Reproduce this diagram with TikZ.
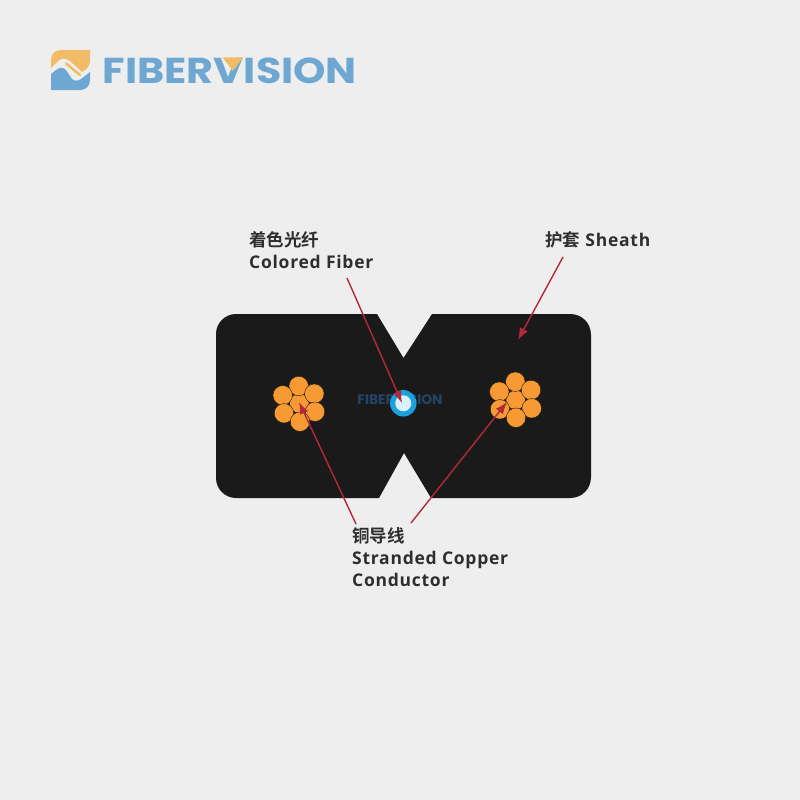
\documentclass[tikz,border=0pt]{standalone}
\usepackage{fontspec}
\setmainfont{Open Sans}[LetterSpace=4.2]
\newfontfamily\cjk{Noto Sans CJK SC}[BoldFont=* Bold]
\newfontfamily\logofont{Poppins}
\usetikzlibrary{arrows.meta}
\definecolor{bgc}{HTML}{EEEEEE}
\definecolor{cablec}{HTML}{1A1A1A}
\definecolor{copperc}{HTML}{F79A33}
\definecolor{redc}{HTML}{B5283C}
\definecolor{txtc}{HTML}{2E2E2E}
\definecolor{logob}{HTML}{6EA8D2}
\definecolor{logoo}{HTML}{F2BC67}
\definecolor{ringc}{HTML}{1BA0E0}
\definecolor{wmc}{HTML}{234468}
\tikzset{
  x=1pt,y=-1pt,
  lbl/.style={font=\fontsize{17.5}{22}\selectfont\bfseries,text=txtc,anchor=north west,inner sep=0pt,align=left},
  wire/.style={circle,fill=copperc,draw=cablec,line width=0.4pt,minimum size=19.5pt,inner sep=0pt},
  pointer/.style={redc,line width=1.4pt,-{Latex[length=12pt,width=9pt]}}
}
\begin{document}
\begin{tikzpicture}
\useasboundingbox (0,0) rectangle (800,800);
\fill[bgc] (0,0) rectangle (800,800);
% cable
\fill[cablec] (236,314) -- (377,314) -- (403.5,358) -- (432,314) -- (570,314)
  .. controls (582,314) and (591,323) .. (591,335) -- (591,477)
  .. controls (591,489) and (582,498) .. (570,498) -- (431,498) -- (404,453) -- (379,498) -- (236,498)
  .. controls (225,498) and (216,489) .. (216,478) -- (216,334)
  .. controls (216,323) and (225,314) .. (236,314) -- cycle;
% copper left
\node[wire] (lc) at (299.3,403.3) {};
\node[wire] (l1) at (298.7,386) {};
\node[wire] (l2) at (282.7,395.3) {};
\node[wire] (l3) at (314.3,393.7) {};
\node[wire] (l4) at (284,413.3) {};
\node[wire] (l5) at (315,411.7) {};
\node[wire] (l6) at (300,421.7) {};
% copper right
\node[wire] (rc) at (515.7,400) {};
\node[wire] (r1) at (515.3,381.7) {};
\node[wire] (r2) at (499.3,391.7) {};
\node[wire] (r3) at (531,390) {};
\node[wire] (r4) at (500,409.3) {};
\node[wire] (r5) at (531.7,408.3) {};
\node[wire] (r6) at (516,417.7) {};
% watermark and fiber
\node[inner sep=0pt,text=wmc,font=\logofont\fontsize{13.8}{15}\selectfont\bfseries] (wm) at (400,400) {FIBERVISION};
\node[circle,fill=ringc,minimum size=26.5pt,inner sep=0pt] (fo) at (403.3,403.3) {};
\node[circle,fill=white!85!ringc,minimum size=16pt,inner sep=0pt] (fi) at (403.3,403.3) {};
% labels
\node[lbl] (a) at (249,231) {{\cjk\bfseries 着色光纤}\\Colored Fiber};
\node[lbl] (b) at (545,231) {{\cjk\bfseries 护套} Sheath};
\node[lbl] (c) at (352,527) {{\cjk\bfseries 铜导线}\\Stranded Copper\\Conductor};
% anchors
\coordinate (a0) at (347,278);
\coordinate (a1) at (402,403);
\coordinate (b0) at (563,257);
\coordinate (b1) at (518,340);
\coordinate (c0) at (356,524);
\coordinate (c1) at (299,402);
\coordinate (d0) at (411,523);
\coordinate (d1) at (507,402);
\draw[pointer] (a0) -- (a1);
\draw[pointer] (b0) -- (b1);
\draw[pointer] (c0) -- (c1);
\draw[pointer] (d0) -- (d1);
% logo icon
\fill[logoo] (51,68) -- (51,60) .. controls (51,54) and (55,50) .. (61,50) -- (90,50) -- (90,60) .. controls (90,66) and (87,69) .. (82,72) -- (70,61) .. controls (65,57) and (61,58) .. (57,62) -- cycle;
\draw[logoo,line width=2.5pt,line cap=round] (66,63.5) -- (80,75);
\fill[logob] (51,74) -- (56,70) .. controls (60,67) and (63,67) .. (66,70) -- (72,79) .. controls (75,81.5) and (78,81) .. (81,79) -- (90,72) -- (90,80) .. controls (90,86) and (86,90) .. (80,90) -- (51,90) -- cycle;
% logo wordmark
\node[inner sep=0pt,anchor=west,xscale=1.145,text=logob,font=\logofont\fontsize{36}{36}\selectfont\bfseries] (logo) at (102.5,71) {FIBERVISION};
\coordinate (v0) at (222.5,57.5);
\coordinate (v1) at (243,57.5);
\coordinate (v2) at (233,71);
\fill[logoo] (v0) -- (v1) -- (v2) -- cycle;
\end{tikzpicture}
\end{document}
